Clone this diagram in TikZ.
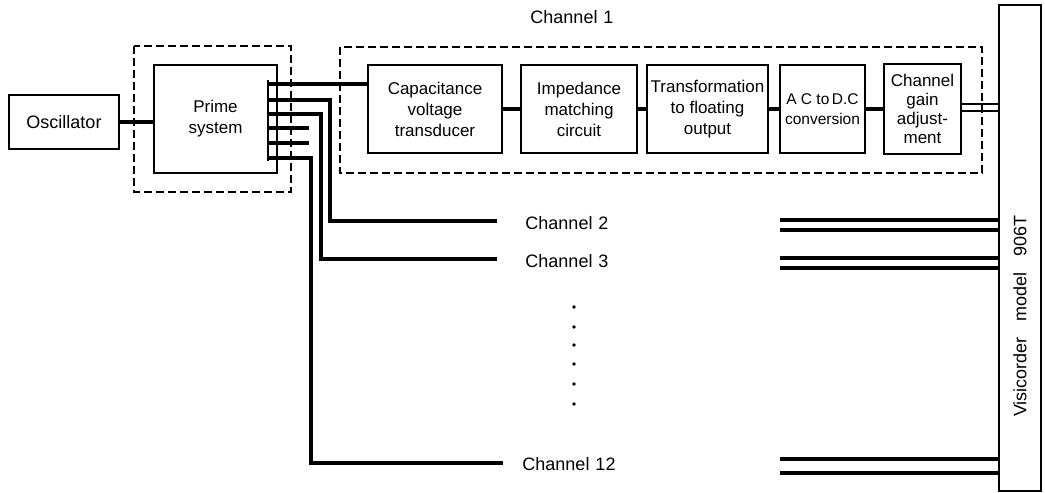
\documentclass[tikz,border=0pt]{standalone}
\usepackage{fontspec}
\setmainfont{Liberation Sans}
\usetikzlibrary{positioning}

\tikzset{
  block/.style={draw, line width=1.8pt, align=center, inner sep=0pt,
    font=\fontsize{17}{21}\selectfont},
  groupbox/.style={draw, line width=1.2pt, dash pattern=on 8pt off 4pt},
  wire/.style={line width=3.2pt},
  lead/.style={line width=2.4pt},
  lbl/.style={font=\fontsize{18}{21}\selectfont, inner sep=0pt},
}

\begin{document}
\begin{tikzpicture}[x=1pt, y=-1pt]

  \useasboundingbox (0,0) rectangle (1045,493);

  % source and prime system
  \node[block, minimum width=110pt, minimum height=54pt, font=\fontsize{18}{21}\selectfont] (osc) at (64,122) {Oscillator};
  \draw[groupbox] (134,46) rectangle (291,192);
  \node[block, minimum width=123pt, minimum height=108pt] (prime) at (215.5,119) {Prime\\system};
  \draw[wire] (osc.east) -- (osc.east -| prime.west);

  % channel 1
  \draw[groupbox] (340,47) rectangle (982,173);
  \node[lbl] (chone) at (572,17) {Channel\,\,1};
  \node[block, minimum width=134pt, minimum height=88pt] (cap) at (435,109) {Capacitance\\voltage\\transducer};
  \node[block, minimum width=116pt, minimum height=88pt] (imp) at (579,109) {Impedance\\matching\\circuit};
  \node[block, minimum width=121pt, minimum height=88pt] (trans) at (707.5,109) {Transformation\\to floating\\output};
  \node[block, minimum width=85pt, minimum height=88pt, font=\fontsize{15.5}{20}\selectfont] (acdc) at (822.5,109) {A C to\,D.C\\conversion};
  \node[block, minimum width=77pt, minimum height=90pt, font=\fontsize{17}{19}\selectfont] (gain) at (922.5,109) {Channel\\gain\\adjust-\\ment};
  \draw[wire] (cap.east) -- (imp.west);
  \draw[wire] (imp.east) -- (trans.west);
  \draw[wire] (trans.east) -- (acdc.west);
  \draw[wire] (acdc.east) -- (gain.west);

  % recorder
  \node[draw, line width=2.2pt, minimum width=42pt, minimum height=486pt] (visi) at (1020,248) {};
  \node[lbl, rotate=90] (visitext) at (1020,316) {Visicorder\hspace{16pt}model\hspace{16pt}906T};
  \path ([yshift=5pt]gain.east) coordinate (g1) ([yshift=-2pt]gain.east) coordinate (g2);
  \draw[lead] (g1) -- (g1 -| visi.west);
  \draw[lead] (g2) -- (g2 -| visi.west);

  % prime outputs
  \draw[lead] (268,80) -- (268,161);
  \foreach \y [count=\i] in {84,100,114,128,143,158}
    \coordinate (tap\i) at (268,\y);
  \coordinate (c2) at (497,221);
  \coordinate (c3) at (497,259);
  \coordinate (c12) at (503,463);
  \draw[wire] (tap1) -- (tap1 -| cap.west);
  \draw[wire] (tap2) -- ++(62,0) |- (c2);
  \draw[wire] (tap3) -- ++(53,0) |- (c3);
  \draw[wire] (tap4) -- ++(41,0);
  \draw[wire] (tap5) -- ++(41,0);
  \draw[wire] (tap6) -- ++(43,0) |- (c12);

  % other channels
  \node[lbl] (chtwo) at (567,223) {Channel\,\,2};
  \node[lbl] (chthree) at (567,261) {Channel\,\,3};
  \node[lbl] (chtwelve) at (569,464) {Channel\,\,12};
  \foreach \y in {307,327,345,364,384,404}
    \fill (574,\y) circle (1.8pt);
  \foreach \y [count=\i] in {220,230,258,268,459,473} {
    \coordinate (r\i) at (780,\y);
    \draw[wire] (r\i) -- (r\i -| visi.west);
  }

\end{tikzpicture}
\end{document}
